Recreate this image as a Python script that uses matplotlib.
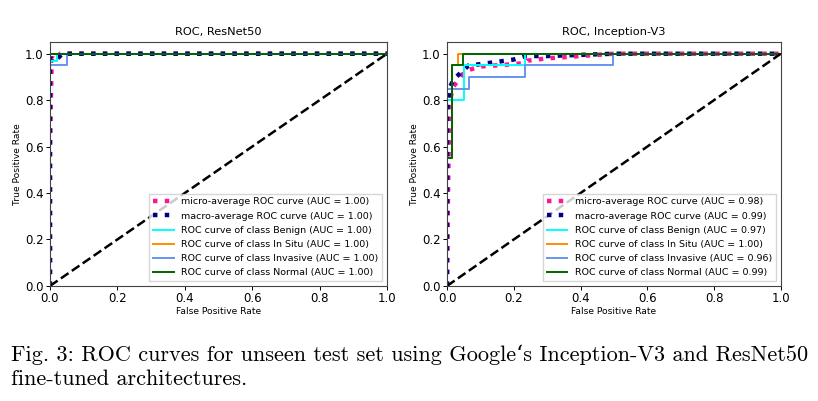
import matplotlib
matplotlib.use("Agg")
import matplotlib.pyplot as plt

plt.rcParams.update({'font.size': 6.8})
plt.rcParams.update({'axes.titlesize': 8.2})
plt.rcParams.update({'axes.labelsize': 6.6})
plt.rcParams.update({'legend.fontsize': 6.8})
plt.rc('xtick', labelsize=8.5)
plt.rc('ytick', labelsize=8.5)

labels = ["micro-average ROC curve", "macro-average ROC curve",
          "ROC curve of class Benign", "ROC curve of class In Situ",
          "ROC curve of class Invasive", "ROC curve of class Normal"]
colors = ["deeppink", "navy", "aqua", "darkorange", "cornflowerblue", "darkgreen"]

# ResNet50 curves (fpr, tpr)
res_auc = [1.00, 1.00, 1.00, 1.00, 1.00, 1.00]
res_fpr = [
    [0.0, 0.0, 0.005, 0.01, 0.02, 0.03, 1.0],
    [0.0, 0.0, 0.005, 0.015, 0.03, 0.035, 1.0],
    [0.0, 0.0, 0.02, 0.02, 1.0],
    [0.0, 0.0, 0.0, 1.0],
    [0.0, 0.0, 0.05, 0.05, 1.0],
    [0.0, 0.0, 1.0],
]
res_tpr = [
    [0.0, 0.6, 0.97, 0.98, 0.97, 1.0, 1.0],
    [0.0, 0.95, 0.98, 0.97, 0.99, 1.0, 1.0],
    [0.0, 0.97, 0.97, 1.0, 1.0],
    [0.0, 0.6, 1.0, 1.0],
    [0.0, 0.95, 0.95, 1.0, 1.0],
    [0.0, 1.0, 1.0],
]

# Inception-V3 curves
inc_auc = [0.98, 0.99, 0.97, 1.00, 0.96, 0.99]
inc_fpr = [
    [0.0, 0.002, 0.005, 0.008, 0.012, 0.02, 0.03, 0.045, 0.065, 0.1, 0.15, 0.2, 0.234, 0.24, 0.3, 0.4, 0.5, 1.0],
    [0.0, 0.0, 0.005, 0.01, 0.02, 0.035, 0.05, 0.065, 0.1, 0.15, 0.2, 0.234, 0.3, 0.4, 0.5, 1.0],
    [0.0, 0.0, 0.05, 0.05, 0.234, 0.234, 1.0],
    [0.0, 0.0, 0.016, 0.016, 0.034, 0.034, 1.0],
    [0.0, 0.0, 0.065, 0.065, 0.234, 0.234, 0.497, 0.497, 1.0],
    [0.0, 0.0, 0.016, 0.016, 0.049, 0.049, 1.0],
]
inc_tpr = [
    [0.0, 0.3, 0.6, 0.75, 0.82, 0.86, 0.88, 0.91, 0.93, 0.945, 0.95, 0.955, 0.96, 0.97, 0.98, 0.99, 1.0, 1.0],
    [0.0, 0.75, 0.82, 0.86, 0.89, 0.91, 0.93, 0.95, 0.955, 0.965, 0.975, 0.99, 0.99, 0.995, 1.0, 1.0],
    [0.0, 0.8, 0.8, 0.95, 0.95, 1.0, 1.0],
    [0.0, 0.55, 0.55, 0.95, 0.95, 1.0, 1.0],
    [0.0, 0.85, 0.85, 0.9, 0.9, 0.95, 0.95, 1.0, 1.0],
    [0.0, 0.55, 0.55, 0.95, 0.95, 1.0, 1.0],
]

caption = ["Fig. 3: ROC curves for unseen test set using Google\u2018s Inception-V3 and ResNet50",
           "fine-tuned architectures."]

fig = plt.figure(figsize=(8.18, 4.01), dpi=100)
ax1 = fig.add_axes([0.0611, 0.287, 0.412, 0.608])
ax2 = fig.add_axes([0.5465, 0.287, 0.408, 0.608])


def draw(ax, fprs, tprs, aucs, title):
    for i in range(6):
        lab = "%s (AUC = %0.2f)" % (labels[i], aucs[i])
        if i < 2:
            ax.plot(fprs[i], tprs[i], color=colors[i], linestyle=':', linewidth=3.2, label=lab)
        else:
            ax.plot(fprs[i], tprs[i], color=colors[i], linewidth=1.4, label=lab)
    ax.plot([0, 1], [0, 1], 'k--', linewidth=1.8)
    ax.set_xlim(0.0, 1.0)
    ax.set_ylim(0.0, 1.05)
    ax.set_xlabel("False Positive Rate", labelpad=1)
    ax.set_ylabel("True Positive Rate", labelpad=2)
    ax.set_title(title, pad=5)
    ax.tick_params(length=3, width=0.7, pad=1.5)
    for s in ax.spines.values():
        s.set_linewidth(0.8)
        s.set_color("#444444")
    ax.legend(loc="lower right", handlelength=2.2, labelspacing=0.55,
              borderpad=0.4, frameon=True, fancybox=False)


draw(ax1, res_fpr, res_tpr, res_auc, "ROC, ResNet50")
draw(ax2, inc_fpr, inc_tpr, inc_auc, "ROC, Inception-V3")

fig.text(0.014, 1 - 361 / 401, caption[0], family=["cmr10", "DejaVu Serif"],
         fontsize=16, va="baseline", ha="left")
fig.text(0.014, 1 - 385 / 401, caption[1], family=["cmr10", "DejaVu Serif"],
         fontsize=16, va="baseline", ha="left")

fig.savefig("out.png", dpi=100)
